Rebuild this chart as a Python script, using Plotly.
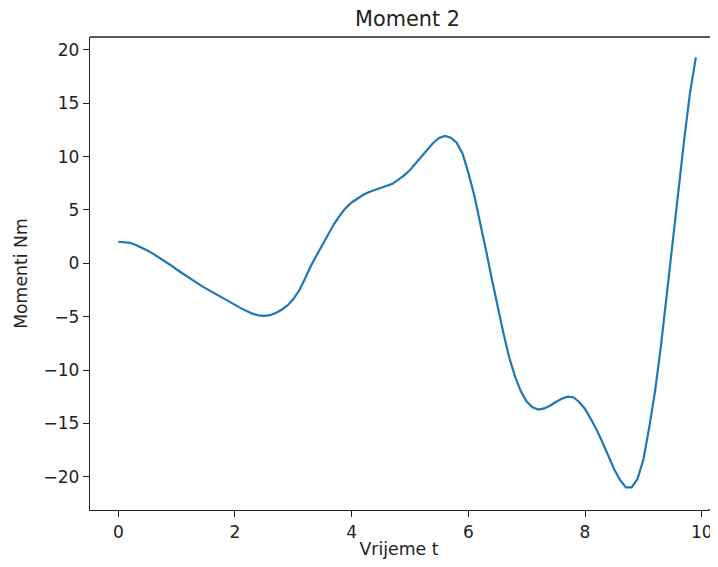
import plotly.graph_objects as go

t_values = [round(i * 0.1, 1) for i in range(100)]
moment_values = [
    2.02, 2.00, 1.92, 1.72, 1.48, 1.20, 0.88, 0.54, 0.20, -0.18,
    -0.58, -0.96, -1.34, -1.68, -2.02, -2.35, -2.67, -2.98, -3.28, -3.60,
    -3.90, -4.20, -4.48, -4.72, -4.88, -4.93, -4.86, -4.66, -4.35, -3.95,
    -3.35, -2.55, -1.45, -0.25, 0.75, 1.70, 2.75, 3.70, 4.50, 5.20,
    5.70, 6.10, 6.42, 6.68, 6.88, 7.03, 7.22, 7.45, 7.85, 8.25,
    8.74, 9.40, 10.05, 10.70, 11.30, 11.75, 11.93, 11.78, 11.30, 10.30,
    8.50, 6.40, 4.00, 1.30, -1.40, -4.00, -6.50, -8.80, -10.60, -12.00,
    -12.95, -13.50, -13.70, -13.60, -13.35, -13.00, -12.70, -12.50, -12.55, -13.00,
    -13.65, -14.60, -15.60, -16.80, -18.10, -19.30, -20.30, -21.00, -21.00, -20.20,
    -18.40, -15.40, -12.00, -7.80, -3.00, 2.00, 6.90, 11.60, 16.00, 19.30,
]
x_ticks = [0, 2, 4, 6, 8, 10]
y_ticks = [-20, -15, -10, -5, 0, 5, 10, 15, 20]
y_tick_labels = ["\u221220", "\u221215", "\u221210", "\u22125", "0", "5", "10", "15", "20"]

title_text = "Moment 2"
x_label = "Vrijeme t"
y_label = "Momenti Nm"

font_family = "DejaVu Sans"
ink = "#222222"

# page is rendered with an 8px body margin; keep the page free of scrollbars
W, H = 710, 551
ML, MR, MT, MB = 82, 10, 29, 49
plot_w = W - ML - MR
px_per_unit = 58.34
x_lo = -0.485
x_hi = x_lo + plot_w / px_per_unit

fig = go.Figure()
fig.add_trace(go.Scatter(
    x=t_values, y=moment_values, mode="lines",
    line=dict(color="#1f77b4", width=2.2),
    showlegend=False, hoverinfo="skip", cliponaxis=False,
))

axis_common = dict(
    showgrid=False, zeroline=False, automargin=False,
    showline=True, linecolor=ink, linewidth=1.3,
    ticks="outside", ticklen=6, tickwidth=1.3, tickcolor=ink,
    ticklabeloverflow="allow",
    tickfont=dict(family=font_family, size=17, color=ink),
)

fig.update_layout(
    width=W, height=H,
    margin=dict(l=ML, r=MR, t=MT, b=MB, autoexpand=False),
    paper_bgcolor="white", plot_bgcolor="white",
    title=dict(text=title_text, x=399.5 / W, xanchor="center", xref="container",
               y=1 - 10.5 / H, yanchor="middle", yref="container",
               automargin=False,
               font=dict(family=font_family, size=20.8, color=ink)),
    xaxis=dict(range=[x_lo, x_hi], tickvals=x_ticks, mirror=False,
               title=dict(text=x_label, standoff=6,
                          font=dict(family=font_family, size=17.3, color=ink)),
               **axis_common),
    yaxis=dict(range=[-23.12, 21.21], tickvals=y_ticks, ticktext=y_tick_labels,
               title=dict(text=y_label, standoff=11,
                          font=dict(family=font_family, size=17.3, color=ink)),
               **axis_common),
)
# top spine and bottom spine continue to the right edge of the picture
ext = (W - ML) / plot_w
fig.add_shape(type="line", xref="paper", yref="paper", x0=0, x1=ext, y0=1, y1=1,
              line=dict(color=ink, width=1.3))
fig.add_shape(type="line", xref="paper", yref="paper", x0=1, x1=ext, y0=0, y1=0,
              line=dict(color=ink, width=1.3))

fig.write_html("out.html")
